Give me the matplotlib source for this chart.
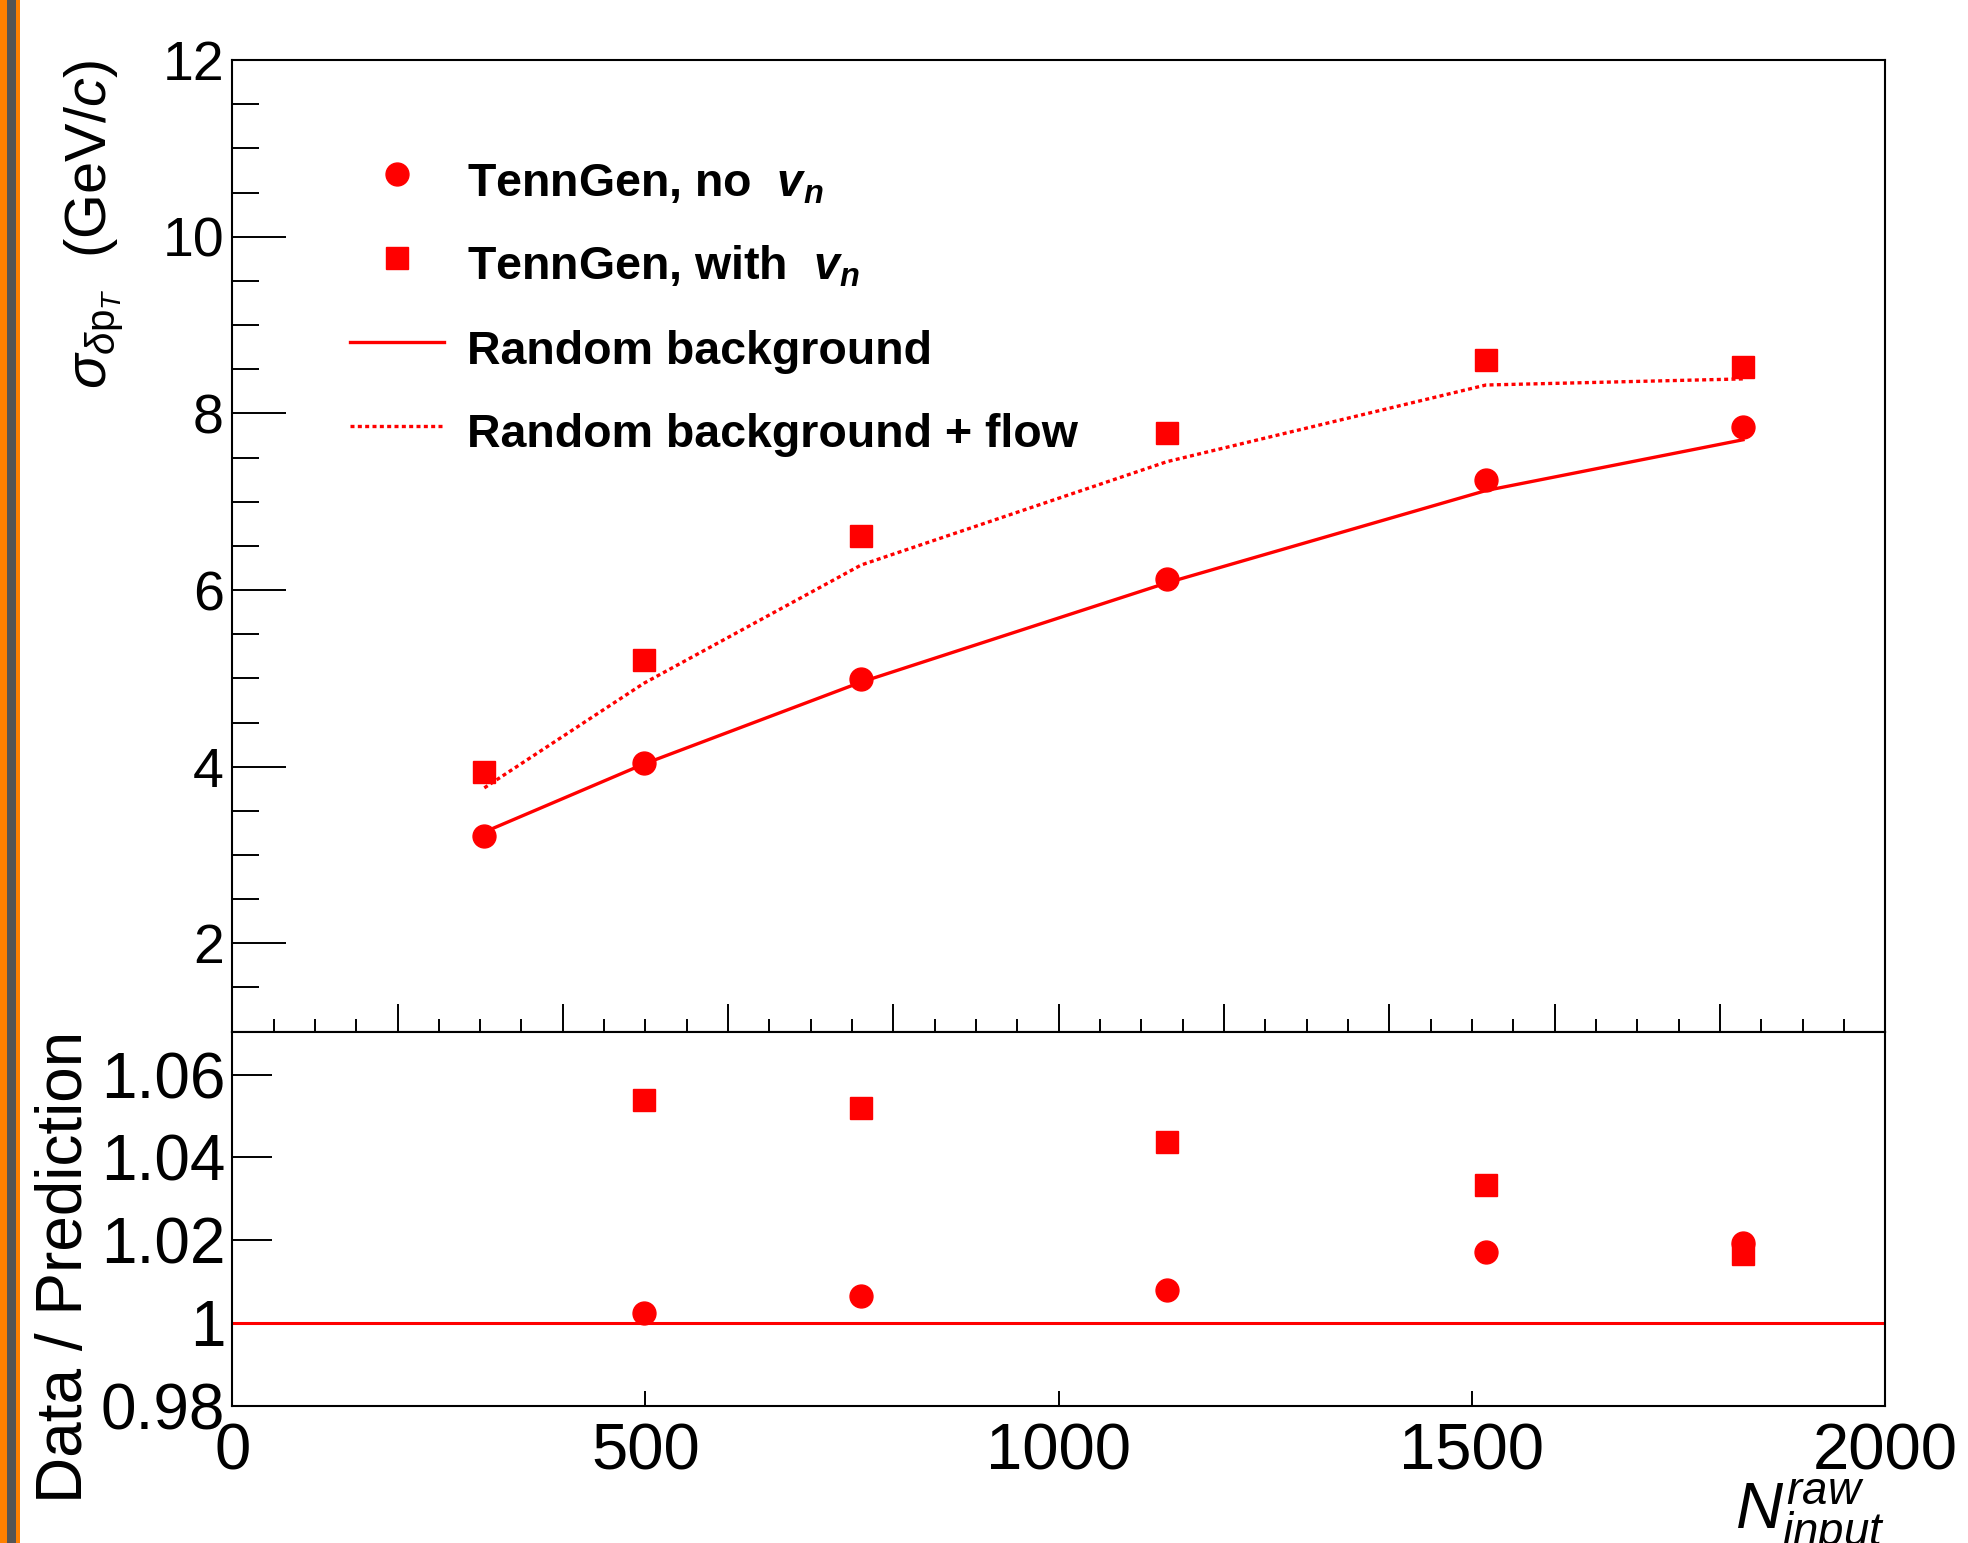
import matplotlib
matplotlib.use("Agg")
import matplotlib.pyplot as plt
import numpy as np
from matplotlib.lines import Line2D
from matplotlib.patches import Rectangle
from matplotlib.ticker import FuncFormatter, MultipleLocator, NullLocator

# values
n_input = [305, 498, 761, 1131, 1517, 1828]
sigma_no_vn = [3.22, 4.04, 4.99, 6.13, 7.25, 7.85]
sigma_with_vn = [3.94, 5.21, 6.61, 7.78, 8.60, 8.53]
pred_random = [3.26, 4.03, 4.958, 6.082, 7.127, 7.702]
pred_random_flow = [3.76, 4.944, 6.284, 7.454, 8.322, 8.391]

# the ratio panel leaves out the most peripheral bin
ratio_first = 1

RED = "#ff0000"

plt.rcParams["font.family"] = ["Liberation Sans", "DejaVu Sans"]
plt.rcParams["mathtext.fontset"] = "custom"
plt.rcParams["mathtext.rm"] = "Liberation Sans"
plt.rcParams["mathtext.it"] = "Liberation Sans:italic"
plt.rcParams["mathtext.bf"] = "Liberation Sans:bold"
plt.rcParams["mathtext.bfit"] = "Liberation Sans:italic:bold"
plt.rcParams["axes.linewidth"] = 1.5


def style_axis(ax):
    ax.spines["top"].set_visible(True)
    ax.spines["right"].set_visible(True)
    ax.tick_params(which="both", direction="in", top=False, right=False,
                   width=1.4, color="black")


fig = plt.figure(figsize=(19.68, 15.43), dpi=100)
ax_top = fig.add_axes([0.1180, 0.3314, 0.8399, 0.6296])
ax_bot = fig.add_axes([0.1180, 0.0890, 0.8399, 0.2424])

# orange frame strip on the left edge of the screenshot
fig.add_artist(Rectangle((0, 0), 7 / 1968, 1, transform=fig.transFigure,
                         color="#ff8000", lw=0))
fig.add_artist(Rectangle((7 / 1968, 0), 9 / 1968, 1, transform=fig.transFigure,
                         color="#555555", lw=0))
fig.add_artist(Rectangle((16 / 1968, 0), 4 / 1968, 1, transform=fig.transFigure,
                         color="#ff8000", lw=0))

# ---- upper panel
x = np.array(n_input)
ax_top.plot(x, pred_random, color=RED, lw=2.4)
ax_top.plot(x, pred_random_flow, color=RED, lw=2.4, ls=(0, (1.2, 1.0)))
ax_top.plot(x, sigma_no_vn, ls="none", marker="o", ms=16.5, color=RED, mec=RED)
ax_top.plot(x, sigma_with_vn, ls="none", marker="s", ms=16, color=RED, mec=RED)

ax_top.set_xlim(0, 2000)
ax_top.set_ylim(1, 12)
ax_top.xaxis.set_major_locator(MultipleLocator(200))
ax_top.xaxis.set_minor_locator(MultipleLocator(50))
ax_top.yaxis.set_major_locator(MultipleLocator(2))
ax_top.yaxis.set_minor_locator(MultipleLocator(0.5))
style_axis(ax_top)
ax_top.tick_params(axis="x", which="major", length=20, labelbottom=False)
ax_top.tick_params(axis="x", which="minor", length=9.6)
ax_top.tick_params(axis="y", which="major", length=39, labelsize=40, pad=6)
ax_top.tick_params(axis="y", which="minor", length=19.5)

handles = [
    Line2D([], [], ls="none", marker="o", ms=16.5, color=RED),
    Line2D([], [], ls="none", marker="s", ms=16, color=RED),
    Line2D([], [], color=RED, lw=2.4),
    Line2D([], [], color=RED, lw=2.4, ls=(0, (1.2, 1.0))),
]
labels = [
    r"TennGen, no  $\mathbfit{v}_{\mathbfit{n}}$",
    r"TennGen, with  $\mathbfit{v}_{\mathbfit{n}}$",
    "Random background",
    "Random background + flow",
]
ax_top.legend(handles, labels, loc="upper left", bbox_to_anchor=(0.0713, 0.905),
              frameon=False, prop={"size": 33.5, "weight": "bold"},
              handlelength=2.02, handletextpad=0.5, handleheight=1.5,
              labelspacing=0.58, borderpad=0, borderaxespad=0)

fig.text(94 / 1968, 1 - 60 / 1543,
         r"$\sigma_{\delta\mathrm{p}_{T}}$  (GeV/$c$)",
         rotation=90, ha="center", va="top", fontsize=41.5)

# ---- ratio panel
ratio_no = np.array(sigma_no_vn) / np.array(pred_random)
ratio_with = np.array(sigma_with_vn) / np.array(pred_random_flow)
ax_bot.axhline(1.0, color=RED, lw=2.2)
ax_bot.plot(x[ratio_first:], ratio_with[ratio_first:], ls="none", marker="s",
            ms=16, color=RED)
ax_bot.plot(x[ratio_first:], ratio_no[ratio_first:], ls="none", marker="o",
            ms=16.5, color=RED)

ax_bot.set_xlim(0, 2000)
ax_bot.set_ylim(0.98, 1.0704)
ax_bot.xaxis.set_major_locator(MultipleLocator(500))
ax_bot.xaxis.set_minor_locator(NullLocator())
ax_bot.yaxis.set_major_locator(MultipleLocator(0.02))
ax_bot.yaxis.set_minor_locator(NullLocator())
ax_bot.yaxis.set_major_formatter(FuncFormatter(lambda v, _: f"{v:g}"))
style_axis(ax_bot)
ax_bot.tick_params(axis="x", which="major", length=11, labelsize=47, pad=12)
ax_bot.tick_params(axis="y", which="major", length=29, labelsize=46, pad=5)

fig.text(65 / 1968, 1 - 1267 / 1543, "Data / Prediction", rotation=90,
         ha="center", va="center", fontsize=46)
fig.text(1885 / 1968, 1 - 1531 / 1543, r"$N^{raw}_{input}$", ha="right",
         va="baseline", fontsize=47)

fig.savefig("out.png", dpi=100, facecolor="white")
